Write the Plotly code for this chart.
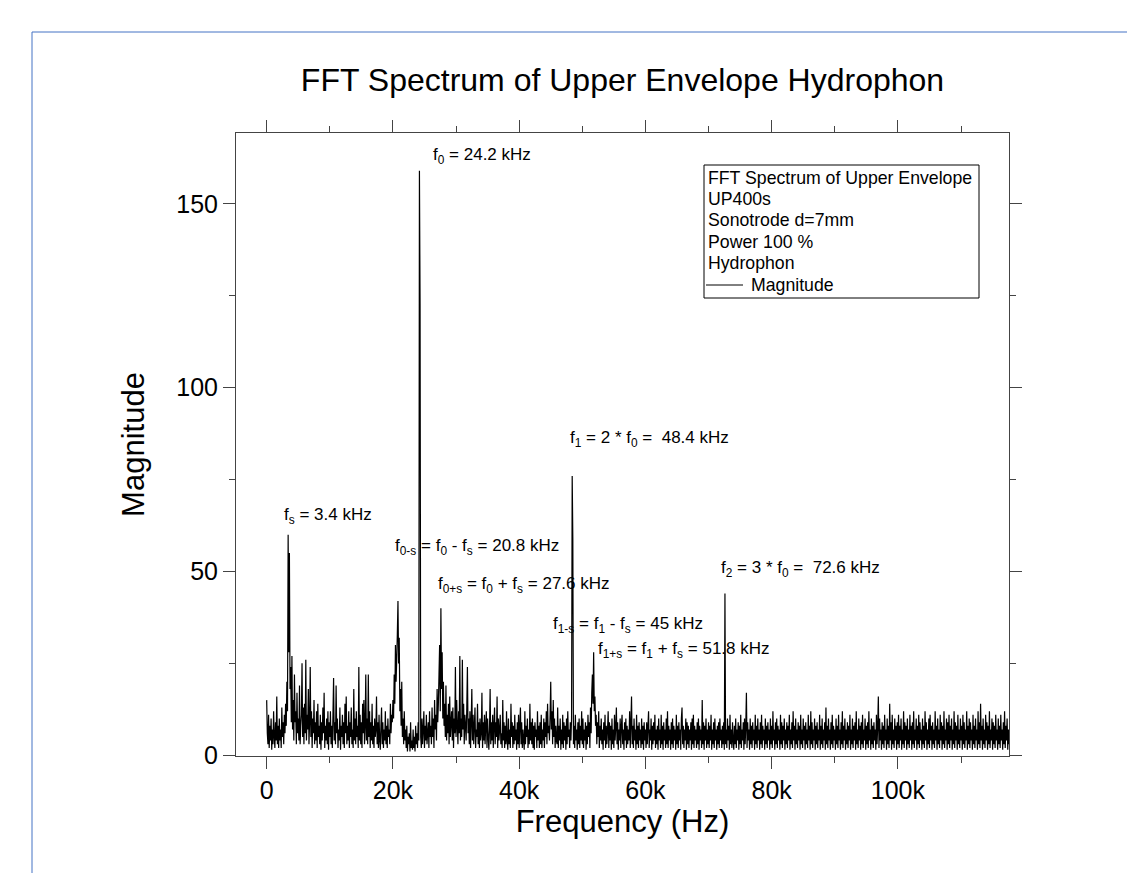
import plotly.graph_objects as go

# ---------------- data ----------------
bin_hz = 100  # FFT bin spacing (Hz)
seg_start_hz = [0, 10000, 20000, 30000, 40000, 50000, 60000, 70000, 80000, 90000, 100000, 110000]

mag_00k = [15, 6, 3, 11, 2, 8, 4, 10, 1.5, 7, 3, 12, 5, 2, 9, 4, 16, 3, 8, 2,
           10, 4, 7, 2, 13, 5, 9, 3, 11, 6, 14, 8, 20, 12, 60, 28, 55, 18, 24, 9,
           27, 7, 15, 4, 22, 9, 12, 3, 17, 6, 10, 4, 19, 3, 8, 11, 25, 5, 13, 3,
           14, 6, 26, 4, 11, 7, 18, 3, 9, 24, 5, 12, 2, 10, 6, 15, 3, 9, 4, 12,
           2, 14, 5, 8, 3, 11, 1.5, 9, 4, 13, 6, 17, 2, 8, 4, 10, 3, 12, 1.5, 9]
mag_10k = [5, 12, 3, 8, 2, 11, 21, 4, 9, 3, 19, 6, 10, 2, 7, 4, 13, 1.5, 8, 5,
           11, 3, 9, 2, 14, 6, 16, 3, 8, 4, 12, 2, 9, 5, 13, 3, 7, 2, 18, 4,
           10, 3, 12, 5, 8, 2, 24, 4, 11, 3, 9, 2, 14, 6, 15, 3, 8, 22, 4, 10,
           3, 22, 5, 12, 2, 9, 4, 14, 3, 8, 2, 10, 5, 7, 16, 3, 9, 2, 11, 4,
           1.5, 8, 13, 3, 9, 2, 7, 4, 12, 3, 8, 2, 10, 5, 7, 3, 14, 6, 11, 9]
mag_20k = [15, 10, 22, 14, 30, 20, 26, 33, 42, 25, 32, 12, 18, 8, 20, 5, 10, 3, 12, 4,
           7, 2, 8, 1, 5, 3, 6, 1, 9, 2, 4, 1.5, 7, 2, 5, 1, 8, 3, 6, 2,
           9, 4, 159, 123, 5, 2, 10, 3, 7, 12, 2, 8, 4, 11, 3, 6, 9, 2, 12, 5,
           8, 3, 13, 5, 10, 2, 15, 7, 11, 4, 18, 9, 14, 22, 30, 12, 40, 18, 28, 10,
           20, 8, 14, 5, 19, 4, 11, 6, 14, 3, 16, 5, 9, 12, 4, 13, 2, 10, 6, 24]
mag_30k = [5, 15, 8, 3, 12, 6, 27, 4, 10, 5, 26, 7, 14, 3, 11, 8, 4, 13, 24, 6,
           10, 3, 12, 2, 9, 18, 4, 11, 3, 8, 13, 2, 7, 5, 14, 3, 9, 2, 10, 4,
           6, 17, 2, 9, 4, 11, 3, 8, 12, 2, 10, 5, 1.5, 7, 18, 3, 9, 4, 11, 2,
           8, 13, 3, 9, 5, 16, 2, 10, 4, 7, 11, 3, 6, 2, 15, 4, 9, 2, 8, 3,
           12, 4, 1.5, 10, 3, 7, 2, 14, 5, 9, 2, 8, 3, 11, 4, 7, 1.5, 9, 3, 11]
mag_40k = [2, 8, 13, 3, 9, 2, 7, 4, 1.5, 12, 3, 8, 5, 10, 2, 7, 3, 14, 4, 9,
           3, 10, 2, 8, 1.5, 9, 5, 7, 2, 12, 4, 8, 2, 9, 3, 11, 2, 7, 4, 10,
           2, 9, 5, 12, 3, 14, 6, 8, 4, 11, 20, 7, 12, 3, 15, 5, 10, 2, 8, 4,
           3, 13, 2, 8, 4, 10, 1.5, 7, 3, 11, 2, 9, 4, 8, 1.5, 10, 3, 12, 5, 7,
           2, 9, 4, 10, 76, 59, 3, 8, 2, 11, 4, 7, 1.5, 9, 3, 10, 2, 8, 4, 12]
mag_50k = [3, 10, 2, 7, 4, 9, 1.5, 8, 3, 11, 5, 9, 2, 13, 6, 17, 22, 14, 28, 12,
           16, 8, 11, 3, 9, 5, 12, 2, 8, 4, 10, 3, 7, 1.5, 9, 4, 11, 2, 8, 3,
           7, 12, 2, 9, 4, 8, 1.5, 10, 3, 7, 2, 11, 4, 8, 13, 3, 9, 1.5, 7, 4,
           10, 2, 8, 11, 3, 7, 1.5, 9, 4, 10, 2, 8, 3, 7, 4, 12, 2, 9, 16, 3,
           8, 2, 10, 4, 7, 1.5, 11, 3, 8, 2, 9, 4, 7, 2, 10, 3, 8, 1.5, 9, 4]
mag_60k = [7, 2, 9, 3, 8, 12, 2, 7, 4, 10, 1.5, 8, 3, 9, 4, 11, 2, 7, 3, 8,
           1.5, 10, 4, 7, 2, 11, 3, 8, 1.5, 9, 4, 7, 2, 10, 3, 12, 2, 8, 4, 7,
           1.5, 9, 3, 10, 2, 8, 4, 7, 1.5, 11, 3, 8, 2, 9, 4, 7, 1.5, 10, 13, 3,
           8, 2, 7, 4, 10, 1.5, 9, 3, 8, 2, 7, 4, 9, 1.5, 10, 3, 11, 2, 8, 4,
           7, 2, 9, 3, 10, 1.5, 8, 4, 7, 2, 15, 3, 9, 1.5, 8, 4, 10, 2, 7, 3]
mag_70k = [9, 2, 8, 4, 11, 1.5, 7, 3, 9, 2, 10, 4, 7, 1.5, 8, 3, 9, 2, 10, 4,
           7, 2, 8, 3, 9, 1.5, 44, 3, 7, 2, 10, 4, 8, 1.5, 11, 3, 7, 2, 9, 4,
           1.5, 8, 3, 10, 2, 7, 4, 9, 1.5, 8, 3, 11, 2, 7, 4, 9, 1.5, 10, 3, 8,
           17, 2, 9, 4, 7, 1.5, 10, 3, 8, 2, 9, 4, 7, 1.5, 11, 3, 8, 2, 10, 4,
           7, 1.5, 9, 3, 11, 2, 8, 4, 7, 1.5, 10, 3, 8, 2, 9, 4, 7, 1.5, 10, 3]
mag_80k = [8, 2, 12, 4, 7, 1.5, 9, 3, 10, 2, 8, 4, 7, 1.5, 11, 3, 9, 2, 8, 4,
           10, 1.5, 7, 3, 9, 2, 8, 4, 11, 1.5, 7, 3, 9, 2, 12, 4, 8, 1.5, 10, 3,
           7, 2, 9, 4, 8, 1.5, 11, 3, 7, 2, 10, 4, 8, 1.5, 9, 3, 7, 2, 11, 4,
           8, 1.5, 12, 3, 9, 2, 7, 4, 10, 1.5, 8, 3, 9, 2, 7, 4, 11, 1.5, 8, 3,
           10, 2, 7, 4, 9, 1.5, 13, 3, 8, 2, 10, 4, 7, 1.5, 9, 3, 11, 2, 8, 4]
mag_90k = [7, 1.5, 10, 3, 8, 2, 11, 4, 7, 1.5, 9, 3, 12, 2, 8, 4, 10, 1.5, 7, 3,
           9, 2, 8, 4, 11, 1.5, 7, 3, 10, 2, 8, 4, 9, 1.5, 12, 3, 7, 2, 10, 4,
           8, 1.5, 9, 3, 11, 2, 7, 4, 10, 1.5, 8, 3, 9, 2, 12, 4, 7, 1.5, 10, 3,
           8, 2, 9, 4, 7, 1.5, 11, 3, 8, 16, 2, 10, 4, 7, 1.5, 9, 3, 8, 2, 11,
           4, 7, 1.5, 10, 3, 8, 2, 14, 4, 9, 1.5, 11, 3, 7, 2, 10, 4, 8, 1.5, 9]
mag_100k = [3, 11, 2, 8, 4, 10, 1.5, 7, 3, 12, 2, 9, 4, 8, 1.5, 10, 3, 7, 2, 11,
            4, 8, 1.5, 9, 3, 12, 2, 7, 4, 10, 1.5, 8, 3, 11, 2, 9, 4, 7, 1.5, 10,
            3, 8, 2, 12, 4, 9, 1.5, 7, 3, 10, 2, 11, 4, 8, 1.5, 9, 3, 7, 2, 12,
            4, 8, 1.5, 10, 3, 7, 2, 11, 4, 9, 1.5, 8, 3, 12, 2, 7, 4, 10, 1.5, 9,
            3, 11, 2, 8, 4, 10, 1.5, 7, 3, 12, 2, 9, 4, 8, 1.5, 11, 3, 7, 2, 10]
mag_110k = [4, 8, 1.5, 11, 3, 9, 2, 7, 4, 12, 1.5, 8, 3, 10, 2, 9, 4, 7, 1.5, 11,
            3, 8, 2, 10, 4, 7, 1.5, 12, 3, 9, 2, 14, 4, 8, 1.5, 10, 3, 7, 2, 11,
            4, 9, 1.5, 8, 3, 12, 2, 7, 4, 10, 1.5, 9, 3, 8, 2, 11, 4, 7, 1.5, 10,
            3, 8, 2, 11, 4, 7, 1.5, 9, 3, 12, 2, 8, 4, 10, 1.5, 7, 3]

segments = [mag_00k, mag_10k, mag_20k, mag_30k, mag_40k, mag_50k,
            mag_60k, mag_70k, mag_80k, mag_90k, mag_100k, mag_110k]

x_tick_vals = [0, 20000, 40000, 60000, 80000, 100000]
x_tick_text = ["0", "20k", "40k", "60k", "80k", "100k"]
y_tick_vals = [0, 50, 100, 150]

legend_lines = ["FFT Spectrum of Upper Envelope", "UP400s", "Sonotrode d=7mm",
                "Power 100 %", "Hydrophon"]
legend_item = "Magnitude"

peak_labels = [
    "f<sub>0</sub> = 24.2 kHz",
    "f<sub>s</sub> = 3.4 kHz",
    "f<sub>0-s</sub> = f<sub>0</sub> - f<sub>s</sub> = 20.8 kHz",
    "f<sub>0+s</sub> = f<sub>0</sub> + f<sub>s</sub> = 27.6 kHz",
    "f<sub>1</sub> = 2 * f<sub>0</sub> = &nbsp;48.4 kHz",
    "f<sub>2</sub> = 3 * f<sub>0</sub> = &nbsp;72.6 kHz",
    "f<sub>1-s</sub> = f<sub>1</sub> - f<sub>s</sub> = 45 kHz",
    "f<sub>1+s</sub> = f<sub>1</sub> + f<sub>s</sub> = 51.8 kHz",
]
label_x_hz = [26100, 2400, 19950, 26900, 47800, 71600, 45000, 52200]
label_y = [163, 65, 56.7, 46.3, 86.1, 50.8, 35.4, 28.6]

# ---------------- build series ----------------
freq = []
mag = []
for start, vals in zip(seg_start_hz, segments):
    for i, v in enumerate(vals):
        freq.append(start + i * bin_hz)
        mag.append(v)

FONT = "Liberation Sans, Arial, sans-serif"

# plot-area geometry in pixels (for placing the framed legend box)
L, T, W, H = 236, 133, 773, 623
def px(xp):
    return (xp - L) / W
def py(yp):
    return 1 - (yp - T) / H

fig = go.Figure()
fig.add_trace(go.Scatter(
    x=freq, y=mag, mode="lines", name=legend_item, showlegend=False,
    line=dict(color="black", width=1.2, simplify=False),
))

for txt, lx, ly in zip(peak_labels, label_x_hz, label_y):
    fig.add_annotation(x=lx, y=ly, text=txt, showarrow=False,
                       xanchor="left", yanchor="middle",
                       font=dict(family=FONT, size=17, color="black"))

# blue outer frame
fig.add_shape(type="rect", xref="paper", yref="paper",
              x0=px(32), x1=px(1135), y0=py(880), y1=py(32),
              line=dict(color="#4472C4", width=1), layer="below")

# framed legend box (Origin style)
fig.add_shape(type="rect", xref="paper", yref="paper",
              x0=px(704), x1=px(979), y0=py(298), y1=py(165),
              line=dict(color="black", width=1), fillcolor="white", layer="above")
line_centers = [177.7, 198.6, 220.0, 241.5, 263.2]
for txt, yc in zip(legend_lines, line_centers):
    fig.add_annotation(xref="paper", yref="paper", x=px(706), y=py(yc),
                       text=txt, showarrow=False, xanchor="left", yanchor="middle",
                       font=dict(family=FONT, size=17.7, color="black"))
fig.add_shape(type="line", xref="paper", yref="paper",
              x0=px(706), x1=px(743), y0=py(285), y1=py(285),
              line=dict(color="black", width=1))
fig.add_annotation(xref="paper", yref="paper", x=px(749), y=py(285),
                   text=legend_item, showarrow=False, xanchor="left", yanchor="middle",
                   font=dict(family=FONT, size=17.7, color="black"))

axis_common = dict(
    showline=True, linecolor="#444", linewidth=1, mirror="ticks",
    ticks="outside", tickcolor="#444", tickwidth=1, ticklen=12,
    showgrid=False, zeroline=False,
    tickfont=dict(family=FONT, size=25, color="black"),
)

fig.update_layout(
    width=1127, height=873,
    margin=dict(l=L, r=1127 - L - W, t=T, b=873 - T - H),
    paper_bgcolor="white", plot_bgcolor="white",
    showlegend=False,
    title=dict(text="FFT Spectrum of Upper Envelope Hydrophon",
               x=0.5, xref="paper", xanchor="center",
               y=1 - 80 / 873, yref="container", yanchor="middle",
               font=dict(family=FONT, size=32, color="black")),
    xaxis=dict(range=[-4860, 117600], tickvals=x_tick_vals, ticktext=x_tick_text,
               minor=dict(ticks="outside", ticklen=6, dtick=10000, tick0=0,
                          tickcolor="#444", showgrid=False),
               title=dict(text="Frequency (Hz)", standoff=3,
                          font=dict(family=FONT, size=31, color="black")),
               **axis_common),
    yaxis=dict(range=[-0.2, 169.3], tickvals=y_tick_vals,
               minor=dict(ticks="outside", ticklen=6, dtick=25, tick0=0,
                          tickcolor="#444", showgrid=False),
               title=dict(text="Magnitude", standoff=22,
                          font=dict(family=FONT, size=31, color="black")),
               **axis_common),
)

fig.write_html("out.html")
